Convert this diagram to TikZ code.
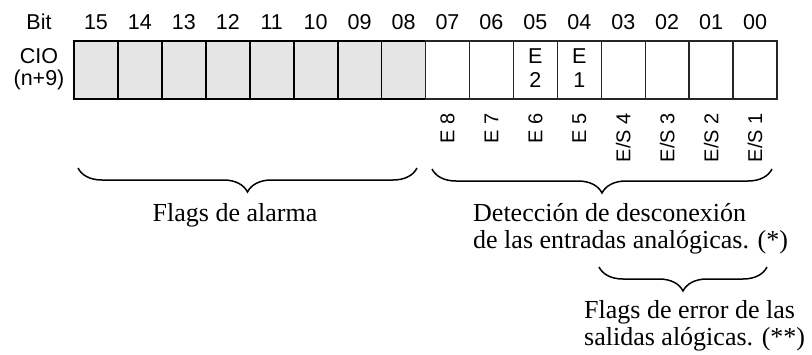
\documentclass[tikz,border=0pt]{standalone}
\usepackage{fontspec}
\setmainfont{Liberation Serif}
\newfontfamily\arialf{Liberation Sans}
\usetikzlibrary{decorations.pathreplacing}
\begin{document}
\begin{tikzpicture}[x=1pt,y=-1pt,
  sanslbl/.style={font=\arialf\fontsize{21.5}{21.5}\selectfont, inner sep=0pt},
  rotlbl/.style={font=\arialf\fontsize{20}{20}\selectfont, inner sep=0pt},
  seriftxt/.style={font=\fontsize{26}{27}\selectfont, inner sep=0pt},
  cellbox/.style={minimum width=43.94pt, minimum height=58pt, inner sep=0pt, outer sep=0pt, anchor=north west},
  graycell/.style={cellbox, draw=black, line width=1.8pt, fill=black!10},
  whitecell/.style={cellbox, draw=black!85, line width=1.4pt, fill=white},
  bracestyle/.style={decorate, decoration={brace, mirror, amplitude=24pt}, line width=1.5pt}
]
\useasboundingbox (0,0) rectangle (812,354);
% header
\node[sanslbl] (bit) at (39,22) {Bit};
\node[sanslbl] (cio) at (39,56) {CIO};
\node[sanslbl] (n9) at (39,80) {(n+9)};
% cells
\foreach \lab [count=\i from 0] in {15,14,13,12,11,10,09,08}{
  \node[graycell] (c\lab) at ({74+43.94*\i},41) {};
  \node[sanslbl] (h\lab) at ({74+43.94*(\i+0.5)},22) {\lab};
}
\foreach \lab [count=\i from 8] in {07,06,05,04,03,02,01,00}{
  \node[whitecell] (c\lab) at ({74+43.94*\i},41) {};
  \node[sanslbl] (h\lab) at ({74+43.94*(\i+0.5)},22) {\lab};
}
% cell contents
\node[sanslbl] (e2a) at (c05.center |- 0,56) {E};
\node[sanslbl] (e2b) at (c05.center |- 0,80) {2};
\node[sanslbl] (e1a) at (c04.center |- 0,56) {E};
\node[sanslbl] (e1b) at (c04.center |- 0,80) {1};
% rotated labels
\foreach \lab/\txt in {07/{E 8},06/{E 7},05/{E 6},04/{E 5},03/{E/S 4},02/{E/S 3},01/{E/S 2},00/{E/S 1}}{
  \node[rotlbl, rotate=90, anchor=east] (r\lab) at (c\lab.center |- 0,113) {\txt};
}
% braces
\coordinate (b1s) at (78,168);
\coordinate (b1e) at (417,168);
\coordinate (b2s) at (432,169);
\coordinate (b2e) at (772,169);
\coordinate (b3s) at (599,267);
\coordinate (b3e) at (767,267);
\draw[bracestyle] (b1s) -- (b1e);
\draw[bracestyle] (b2s) -- (b2e);
\draw[bracestyle] (b3s) -- (b3e);
% texts
\node[seriftxt, anchor=base] (alarm) at (235,221) {Flags de alarma};
\node[seriftxt, anchor=base west] (d1) at (473,221) {Detección de desconexión};
\node[seriftxt, anchor=base west] (d2) at (473,248) {de las entradas analógicas. (*)};
\node[seriftxt, anchor=base west] (f1) at (584,318) {Flags de error de las};
\node[seriftxt, anchor=base west] (f2) at (584,345) {salidas alógicas. (**)};
\end{tikzpicture}
\end{document}
